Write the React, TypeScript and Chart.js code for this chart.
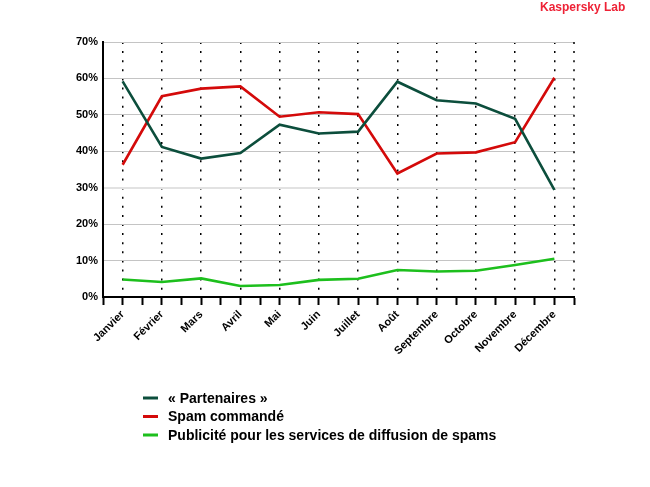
import { useEffect, useRef } from "react";
import { Chart, registerables } from "chart.js";

Chart.register(...registerables);

const months = [
  "Janvier",
  "Février",
  "Mars",
  "Avril",
  "Mai",
  "Juin",
  "Juillet",
  "Août",
  "Septembre",
  "Octobre",
  "Novembre",
  "Décembre",
];

const seriesNames = [
  "« Partenaires »",
  "Spam commandé",
  "Publicité pour les services de diffusion de spams",
];

const partenaires = [59.2, 41.2, 38.0, 39.5, 47.3, 44.9, 45.4, 59.1, 54.0, 53.1, 48.9, 29.4];
const spamCommande = [36.3, 55.1, 57.2, 57.8, 49.5, 50.7, 50.2, 33.9, 39.4, 39.7, 42.5, 60.2];
const publicite = [4.8, 4.1, 5.1, 3.0, 3.3, 4.7, 5.0, 7.4, 7.0, 7.2, 8.8, 10.5];

const yTicks = [0, 10, 20, 30, 40, 50, 60, 70];

const colors = ["#0c4e3c", "#d40a0a", "#1dbf1d"];
const FONT = "'Liberation Sans', Arial, sans-serif";

// legend + brand text + dotted right edge
const extrasPlugin = {
  id: "extras",
  afterDraw(chart: Chart) {
    const { ctx, chartArea } = chart;
    ctx.save();
    // dotted right edge
    ctx.strokeStyle = "#000";
    ctx.lineWidth = 1.5;
    ctx.setLineDash([2, 7.1]);
    ctx.beginPath();
    ctx.moveTo(chartArea.right, chartArea.top);
    ctx.lineTo(chartArea.right, chartArea.bottom);
    ctx.stroke();
    ctx.setLineDash([]);

    // brand
    ctx.fillStyle = "#ee2236";
    ctx.font = `bold 12px ${FONT}`;
    ctx.textBaseline = "middle";
    ctx.textAlign = "left";
    ctx.fillText("Kaspersky Lab", 540, 8);

    // legend
    ctx.font = `bold 14px ${FONT}`;
    chart.data.datasets.forEach((ds, i) => {
      const y = 398 + i * 18.5;
      ctx.strokeStyle = ds.borderColor as string;
      ctx.lineWidth = 3;
      ctx.beginPath();
      ctx.moveTo(143, y);
      ctx.lineTo(158, y);
      ctx.stroke();
      ctx.fillStyle = "#000";
      ctx.fillText(ds.label as string, 168, y + 1);
    });
    ctx.restore();
  },
};

const App = () => {
  const canvasRef = useRef<HTMLCanvasElement | null>(null);

  useEffect(() => {
    if (!canvasRef.current) return;
    const values = [partenaires, spamCommande, publicite];
    const chart = new Chart(canvasRef.current, {
      type: "line",
      data: {
        labels: months,
        datasets: seriesNames.map((name, i) => ({
          label: name,
          data: values[i],
          borderColor: colors[i],
          backgroundColor: colors[i],
          borderWidth: 2.6,
          pointRadius: 0,
          tension: 0,
          xAxisID: "x",
        })),
      },
      options: {
        responsive: false,
        animation: false,
        layout: { padding: { left: 0, top: 42, right: 76, bottom: 0 } },
        plugins: {
          legend: { display: false },
          tooltip: { enabled: false },
        },
        scales: {
          x: {
            type: "category",
            offset: true,
            weight: 0,
            afterFit: (s: any) => {
              s.height = 182;
            },
            grid: {
              color: "#000",
              lineWidth: 1.5,
              drawTicks: false,
              offset: false,
            },
            border: { display: false, dash: [2, 7.1] },
            ticks: {
              autoSkip: false,
              minRotation: 45,
              maxRotation: 45,
              padding: 3,
              color: "#000",
              font: { family: FONT, size: 11, weight: "bold" },
            },
          },
          x2: {
            type: "linear",
            position: "bottom",
            weight: -1,
            min: -0.5,
            max: months.length - 0.5,
            afterFit: (s: any) => {
              s.height = 8;
            },
            ticks: { display: false, stepSize: 0.5 },
            grid: {
              drawOnChartArea: false,
              drawTicks: true,
              tickLength: 8,
              tickColor: "#000",
              tickWidth: 2,
            },
            border: { display: true, color: "#000", width: 2 },
          },
          y: {
            min: 0,
            max: 70,
            afterFit: (s: any) => {
              s.width = 103;
            },
            afterBuildTicks: (s: any) => {
              s.ticks = yTicks.map((v) => ({ value: v }));
            },
            grid: {
              drawTicks: false,
              color: (c: any) => (c.tick && c.tick.value === 30 ? "#e2e2e2" : "#c4c4c4"),
              lineWidth: (c: any) => (c.tick && c.tick.value === 30 ? 2 : 1),
            },
            border: { display: true, color: "#000", width: 2 },
            ticks: {
              padding: 5,
              color: "#000",
              font: { family: FONT, size: 11, weight: "bold" },
              callback: (v: any) => `${v}%`,
            },
          },
        },
      },
      plugins: [extrasPlugin],
    });
    return () => {
      chart.destroy();
    };
  }, []);

  return (
    <div style={{ position: "absolute", left: 0, top: 0, width: 650, height: 487, background: "#fff" }}>
      <canvas ref={canvasRef} width={650} height={487} />
    </div>
  );
};

export default App;
